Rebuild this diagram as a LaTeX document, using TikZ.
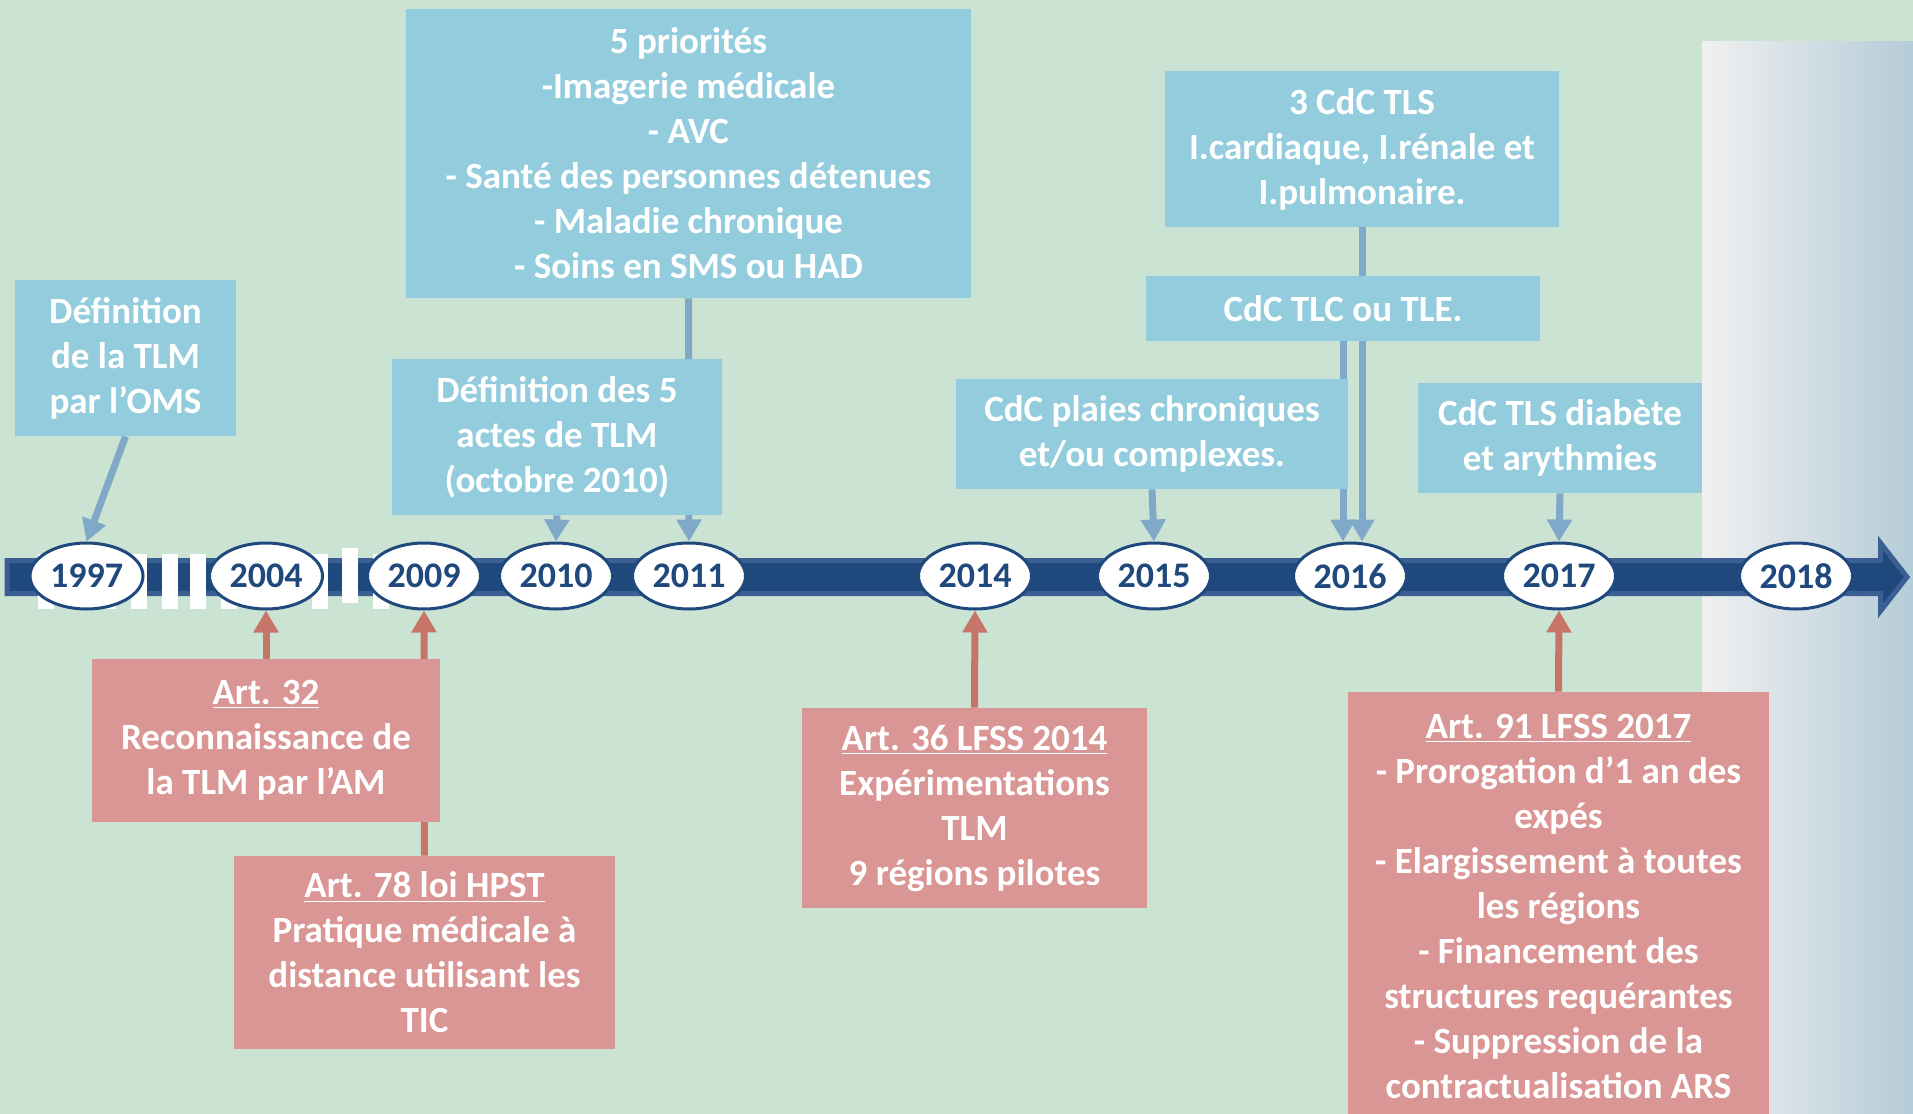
\documentclass[tikz,border=0pt]{standalone}
\usepackage{fontspec}
\setmainfont{Carlito}
\usetikzlibrary{shapes.geometric,arrows.meta}
\pgfdeclarelayer{back}
\pgfdeclarelayer{conn}
\pgfsetlayers{back,conn,main}

\definecolor{bggreen}{RGB}{203,227,211}
\definecolor{boxblue}{RGB}{147,205,221}
\definecolor{arrblue}{RGB}{128,168,200}
\definecolor{boxred}{RGB}{217,150,148}
\definecolor{arrred}{RGB}{199,117,105}
\definecolor{navy}{RGB}{31,73,125}
\definecolor{barline}{RGB}{59,95,146}
\definecolor{panelL}{RGB}{240,240,240}
\definecolor{panelR}{RGB}{180,204,216}

\tikzset{
    evbox/.style={fill=boxblue, text=white, align=center, inner sep=0pt,
        font=\bfseries\fontsize{18.5}{22.5}\selectfont},
    lawbox/.style={evbox, fill=boxred},
    year/.style={ellipse, draw=navy, line width=1.5pt, fill=white, text=navy,
        minimum width=56.5pt, minimum height=33pt, inner sep=0pt,
        font=\bfseries\fontsize{18}{20}\selectfont},
    bluearr/.style={arrblue, line width=3.5pt, -{Triangle[width=12pt,length=11pt]}},
    redarr/.style={bluearr, arrred},
}

\begin{document}
\begin{tikzpicture}[x=0.5pt, y=-0.5pt]
    \useasboundingbox (0,0) rectangle (1913,1114);

    \begin{pgfonlayer}{back}
        % background and 2018 panel
        \fill[bggreen] (0,0) rectangle (1913,1114);
        \shade[left color=panelL, right color=panelR] (1702,41) rectangle (1913,1114);
        % axis
        \filldraw[fill=navy, draw=barline, line width=2.5pt, line join=miter]
            (7,560.5) -- (1880.5,560.5) -- (1880.5,543) -- (1907,577)
            -- (1880.5,611) -- (1880.5,593.5) -- (7,593.5) -- cycle;
        % breaks
        \foreach \xx in {38,100,131,162,190,221,312,373}
            \fill[white] (\xx,554) rectangle +(16,55);
        \fill[white] (342,548) rectangle +(16,55);
    \end{pgfonlayer}

    % years
    \foreach \yr/\xx in {1997/86.5, 2004/266, 2009/424, 2010/556, 2011/689,
                         2014/975, 2015/1154, 2016/1350, 2017/1559, 2018/1796}
        \node[year] (y\yr) at (\xx,576) {\yr};

    % events
    \node[evbox, minimum width=110.5pt, minimum height=78pt] (def) at (125.5,358)
        {Définition\\de la TLM\\par l’OMS};
    \node[evbox, minimum width=282.5pt, minimum height=144.5pt] (prio) at (688.5,153.5)
        {5 priorités\\-Imagerie médicale\\- AVC\\- Santé des personnes détenues\\- Maladie chronique\\- Soins en SMS ou HAD};
    \node[evbox, minimum width=165pt, minimum height=78pt] (actes) at (557,437)
        {Définition des 5\\actes de TLM\\(octobre 2010)};
    \node[evbox, minimum width=197pt, minimum height=78pt] (tls) at (1362,149)
        {3 CdC TLS\\I.cardiaque, I.rénale et\\I.pulmonaire.};
    \node[evbox, minimum width=197pt, minimum height=32.5pt] (tlc) at (1343,308.5)
        {CdC TLC ou TLE.};
    \node[evbox, minimum width=196pt, minimum height=55pt] (plaies) at (1152,434)
        {CdC plaies chroniques\\et/ou complexes.};
    \node[evbox, minimum width=142pt, minimum height=55pt] (diab) at (1560,438)
        {CdC TLS diabète\\et arythmies};

    % laws
    \node[lawbox, minimum width=174pt, minimum height=81.5pt] (art32) at (266,740.5)
        {\underline{Art. 32}\\Reconnaissance de\\la TLM par l’AM};
    \node[lawbox, minimum width=190.5pt, minimum height=96.5pt] (art78) at (424.5,952.5)
        {\underline{Art. 78 loi HPST}\\Pratique médicale à\\distance utilisant les\\TIC};
    \node[lawbox, minimum width=172.5pt, minimum height=100pt] (art36) at (974.5,808)
        {\underline{Art. 36 LFSS 2014}\\Expérimentations\\TLM\\9 régions pilotes};
    \node[lawbox, minimum width=210.5pt, minimum height=214pt] (art91) at (1558.5,906)
        {\underline{Art. 91 LFSS 2017}\\- Prorogation d’1 an des\\expés\\- Elargissement à toutes\\les régions\\- Financement des\\structures requérantes\\- Suppression de la\\contractualisation ARS};

    \begin{pgfonlayer}{conn}
        \draw[bluearr] (def.south) -- (y1997.north);
        \draw[bluearr] (actes.south) -- (y2010.north);
        \draw[bluearr] (prio.south) -- (y2011.north);
        \draw[bluearr] (plaies.south) -- (y2015.north);
        \draw[bluearr] (tlc.south) -- (tlc.south |- y2016.north);
        \draw[bluearr] (tls.south) -- (tls.south |- y2016.north);
        \draw[bluearr] (diab.south) -- (y2017.north);

        \draw[redarr] (art32.north) -- (y2004.south);
        \draw[redarr] (art78.north) -- (y2009.south);
        \draw[redarr] (art36.north) -- (y2014.south);
        \draw[redarr] (art91.north) -- (y2017.south);
    \end{pgfonlayer}

\end{tikzpicture}
\end{document}
